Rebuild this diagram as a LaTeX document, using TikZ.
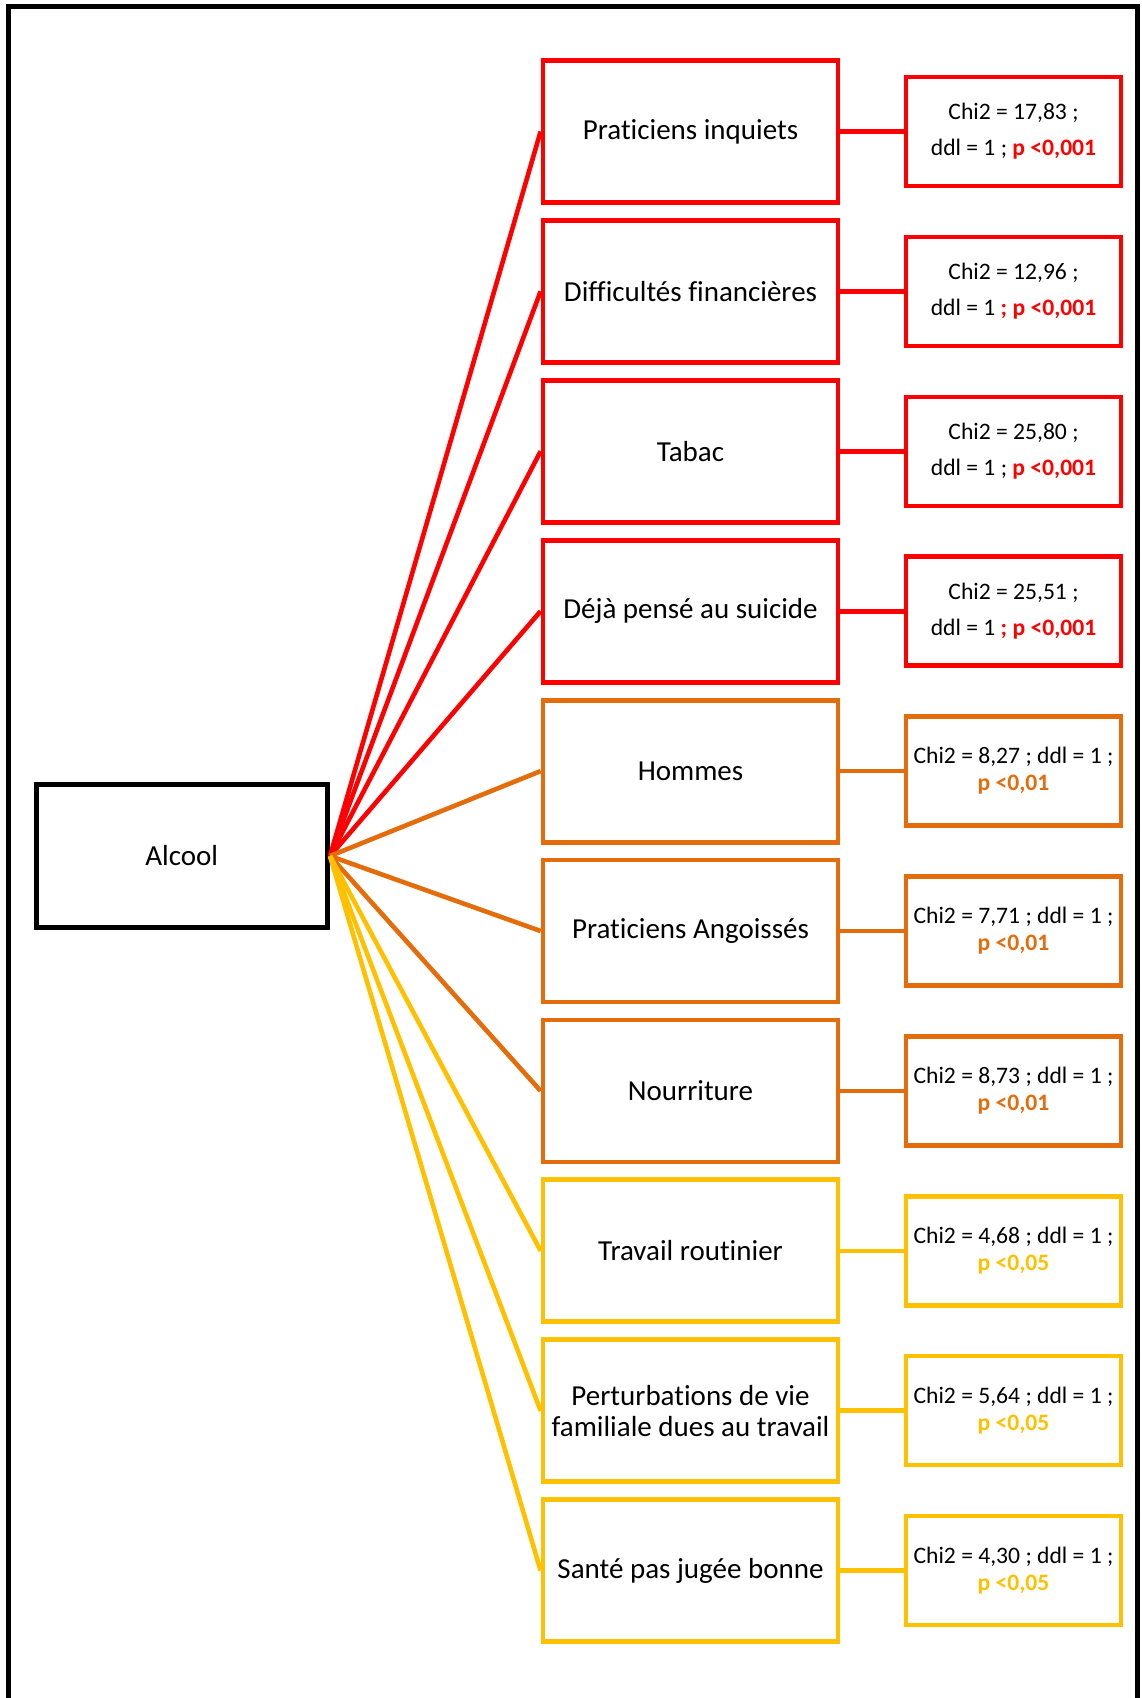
\documentclass[tikz,border=0pt]{standalone}
\usepackage{fontspec}
\setmainfont{Carlito}[Ligatures=NoCommon]
\definecolor{cred}{HTML}{FF0000}
\definecolor{corange}{HTML}{E46C0A}
\definecolor{cyellow}{HTML}{FFC000}
\begin{document}
\begin{tikzpicture}[x=1pt,y=-1pt,
  mid/.style={draw=#1, line width=4.8pt, minimum width=295pt, minimum height=142pt,
    inner sep=2pt, align=center, font=\fontsize{29}{31}\selectfont},
  stat/.style={draw=#1, line width=4.5pt, minimum width=215pt, minimum height=109pt,
    inner sep=1pt, align=center, font=\fontsize{23.6}{27}\selectfont},
  statwide/.style={stat=#1, font=\fontsize{23.6}{36}\selectfont},
  root/.style={draw=black, line width=5pt, minimum width=291.5pt, minimum height=143.5pt,
    inner sep=2pt, align=center, font=\fontsize{29}{31}\selectfont},
  link/.style={draw=#1, line width=4.6pt},
  frame/.style={draw=black, line width=5pt},
]
\useasboundingbox (0,0) rectangle (1141,1698);
\draw[frame] (8.5,1710) -- (8.5,6.5) -- (1137.5,6.5) -- (1137.5,1710);

\node[root] (alc) at (181.75,856) {Alcool};

\node[mid=cred] (m1) at (690.5,131.5) {Praticiens inquiets};
\node[mid=cred] (m2) at (690.5,291.4) {Difficultés financières};
\node[mid=cred] (m3) at (690.5,451.3) {Tabac};
\node[mid=cred] (m4) at (690.5,611.2) {Déjà pensé au suicide};
\node[mid=corange] (m5) at (690.5,771.1) {Hommes};
\node[mid=corange] (m6) at (690.5,931.0) {Praticiens Angoissés};
\node[mid=corange] (m7) at (690.5,1090.9) {Nourriture};
\node[mid=cyellow] (m8) at (690.5,1250.8) {Travail routinier};
\node[mid=cyellow] (m9) at (690.5,1410.7) {Perturbations de vie\\familiale dues au travail};
\node[mid=cyellow] (m10) at (690.5,1570.6) {Santé pas jugée bonne};

\node[statwide=cred] (s1) at (1013.5,131.5) {Chi2 = 17,83 ;\\ddl = 1 ; \textcolor{cred}{\bfseries p <0,001}};
\node[statwide=cred] (s2) at (1013.5,291.4) {Chi2 = 12,96 ;\\ddl = 1 \textcolor{cred}{\bfseries ; p <0,001}};
\node[statwide=cred] (s3) at (1013.5,451.3) {Chi2 = 25,80 ;\\ddl = 1 ; \textcolor{cred}{\bfseries p <0,001}};
\node[statwide=cred] (s4) at (1013.5,611.2) {Chi2 = 25,51 ;\\ddl = 1 \textcolor{cred}{\bfseries ; p <0,001}};
\node[stat=corange] (s5) at (1013.5,771.1) {Chi2 = 8,27 ; ddl = 1 ;\\\textcolor{corange}{\bfseries p <0,01}};
\node[stat=corange] (s6) at (1013.5,931.0) {Chi2 = 7,71 ; ddl = 1 ;\\\textcolor{corange}{\bfseries p <0,01}};
\node[stat=corange] (s7) at (1013.5,1090.9) {Chi2 = 8,73 ; ddl = 1 ;\\\textcolor{corange}{\bfseries p <0,01}};
\node[stat=cyellow] (s8) at (1013.5,1250.8) {Chi2 = 4,68 ; ddl = 1 ;\\\textcolor{cyellow}{\bfseries p <0,05}};
\node[stat=cyellow] (s9) at (1013.5,1410.7) {Chi2 = 5,64 ; ddl = 1 ;\\\textcolor{cyellow}{\bfseries p <0,05}};
\node[stat=cyellow] (s10) at (1013.5,1570.6) {Chi2 = 4,30 ; ddl = 1 ;\\\textcolor{cyellow}{\bfseries p <0,05}};

\foreach \i/\c in {1/cred,2/cred,3/cred,4/cred,5/corange,6/corange,7/corange,8/cyellow,9/cyellow,10/cyellow}{
  \draw[link=\c] (alc.east) -- (m\i.west);
  \draw[link=\c] (m\i.east) -- (s\i.west);
}
\end{tikzpicture}
\end{document}
